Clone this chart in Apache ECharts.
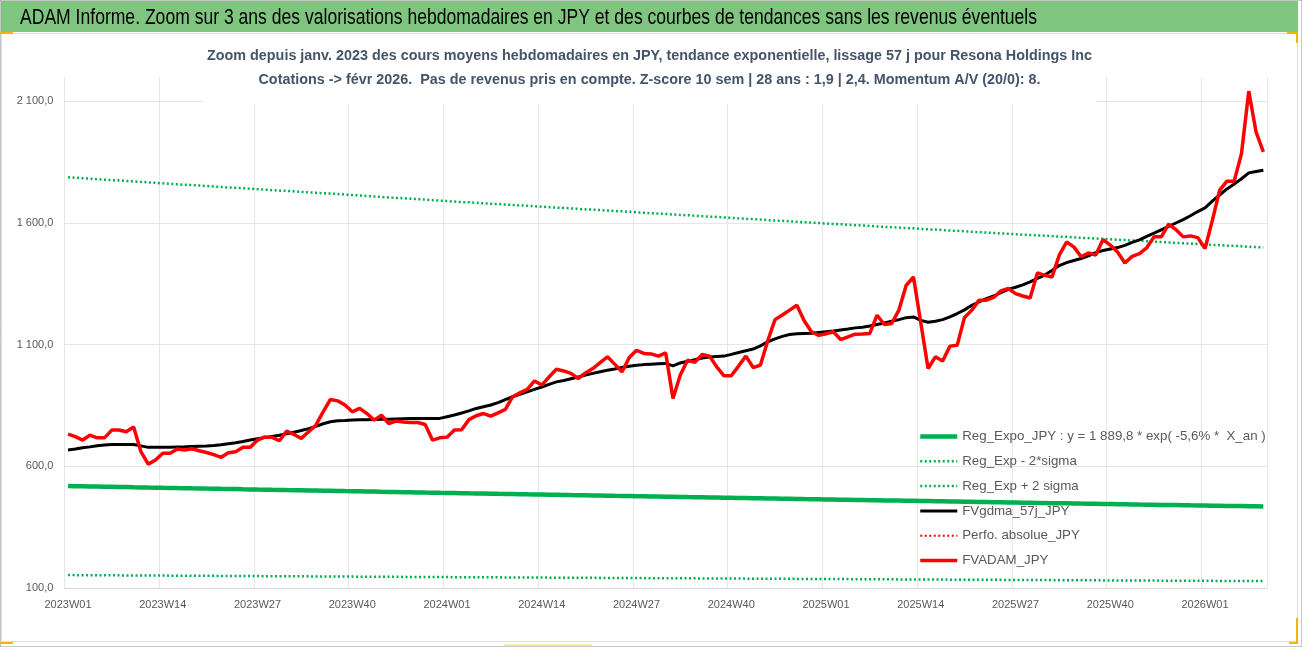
<!DOCTYPE html>
<html>
<head>
<meta charset="utf-8">
<script src="https://cdn.jsdelivr.net/npm/echarts@6/dist/echarts.min.js"></script>
<style>
html,body{margin:0;padding:0;background:#fff;}
#chart{width:1302px;height:647px;}
</style>
</head>
<body>
<div id="chart"></div>
<script>
// ---- Data (weekly, 2023W01 .. 2026W09) ----
const fvAdam = [
 732,722,708,728,717,717,749,749,742,762,660,609,626,
 654,654,671,667,672,664,657,648,637,656,660,678,678,
 708,721,719,705,745,731,715,742,769,824,875,869,852,
 824,838,817,790,810,776,786,782,780,780,772,708,717,
 720,749,750,792,808,817,806,820,834,886,902,916,951,
 934,967,999,992,982,961,984,1002,1026,1050,1020,988,1047,
 1077,1064,1062,1053,1066,879,975,1036,1027,1060,1053,1009,972,
 972,1012,1053,1006,1016,1116,1203,1222,1242,1262,1198,1153,1138,
 1145,1153,1121,1132,1143,1144,1146,1221,1183,1187,1242,1344,1378,
 1190,1002,1050,1033,1094,1098,1212,1242,1283,1283,1294,1321,1331,
 1310,1300,1292,1395,1385,1378,1468,1522,1502,1461,1477,1468,1532,
 1509,1481,1436,1463,1474,1498,1543,1543,1595,1573,1543,1547,1540,
 1495,1611,1734,1772,1772,1885,2142,1974,1892
];
const fvGdma = [
 667,671,676,680,685,688,690,690,690,690,684,678,678,
 678,678,679,680,682,683,684,686,689,693,697,702,708,
 713,718,723,728,734,740,747,755,764,775,783,787,788,
 790,791,791,792,793,794,795,796,797,797,797,797,797,
 804,811,819,828,838,845,852,862,874,886,896,906,916,
 926,937,947,953,960,967,975,982,989,995,1000,1006,1011,
 1015,1018,1020,1022,1023,1013,1025,1032,1038,1045,1049,1051,1053,
 1060,1068,1075,1082,1095,1112,1124,1134,1142,1145,1146,1147,1150,
 1153,1156,1160,1164,1169,1172,1177,1183,1189,1196,1203,1211,1214,
 1200,1192,1196,1203,1214,1228,1243,1262,1276,1289,1300,1314,1327,
 1336,1346,1358,1372,1386,1405,1425,1437,1446,1454,1465,1478,1487,
 1493,1499,1508,1520,1531,1545,1558,1572,1586,1600,1614,1630,1647,
 1662,1690,1715,1740,1760,1782,1806,1812,1817
];
const regExpo = [
 519,518.4,517.9,517.3,516.8,516.2,515.7,515.1,514.6,514,513.5,512.9,512.4,
 511.8,511.3,510.7,510.2,509.6,509.1,508.5,508,507.4,506.9,506.4,505.8,505.3,
 504.7,504.2,503.6,503.1,502.5,502,501.5,500.9,500.4,499.8,499.3,498.8,498.2,
 497.7,497.2,496.6,496.1,495.5,495,494.5,493.9,493.4,492.9,492.3,491.8,491.2,
 490.7,490.2,489.7,489.1,488.6,488.1,487.6,487,486.5,486,485.5,484.9,484.4,
 483.9,483.4,482.9,482.4,481.8,481.3,480.8,480.3,479.8,479.3,478.7,478.2,477.7,
 477.2,476.7,476.2,475.7,475.2,474.7,474.2,473.6,473.1,472.6,472.1,471.6,471.1,
 470.6,470.1,469.6,469.1,468.6,468.1,467.6,467.1,466.6,466.1,465.5,465,464.5,
 464,463.5,463,462.5,462,461.5,461,460.6,460.1,459.6,459.1,458.6,458.1,
 457.6,457.1,456.6,456.1,455.6,455.1,454.6,454.2,453.7,453.2,452.7,452.2,451.7,
 451.2,450.7,450.2,449.7,449.3,448.8,448.3,447.8,447.3,446.8,446.4,445.9,445.4,
 444.9,444.4,444,443.5,443,442.6,442.1,441.6,441.1,440.7,440.2,439.7,439.3,
 438.8,438.3,437.9,437.4,436.9,436.5,436,435.5,435
];
const regLow = [
 153.1,152.9,152.8,152.6,152.4,152.3,152.1,151.9,151.8,151.6,151.4,151.3,151.1,
 151,150.8,150.7,150.5,150.4,150.2,150,149.9,149.7,149.5,149.4,149.2,149.1,
 148.9,148.7,148.6,148.4,148.3,148.1,147.9,147.8,147.6,147.4,147.3,147.1,147,
 146.8,146.6,146.5,146.3,146.2,146,145.9,145.7,145.6,145.4,145.3,145.1,145,
 144.8,144.6,144.5,144.3,144.2,144,143.9,143.7,143.6,143.4,143.3,143.1,143,
 142.8,142.6,142.5,142.3,142.2,142,141.9,141.7,141.6,141.4,141.3,141.1,141,
 140.8,140.6,140.5,140.3,140.2,140,139.9,139.7,139.6,139.4,139.3,139.1,139,
 138.8,138.7,138.5,138.4,138.2,138.1,137.9,137.8,137.6,137.5,137.3,137.2,137,
 136.9,136.8,136.6,136.5,136.3,136.2,136,135.9,135.7,135.6,135.4,135.3,135.1,
 135,134.9,134.7,134.6,134.4,134.3,134.1,134,133.8,133.7,133.5,133.4,133.2,
 133.1,133,132.8,132.7,132.5,132.4,132.2,132.1,131.9,131.8,131.6,131.5,131.3,
 131.2,131.1,130.9,130.8,130.6,130.5,130.4,130.2,130.1,129.9,129.8,129.6,129.5,
 129.4,129.3,129.1,129,128.9,128.7,128.6,128.4,128.3
];
const regHigh = [
 1788,1786,1784,1782,1780,1778,1776,1775,1773,1771,1769,1767,1765,
 1763,1761,1759,1757,1756,1754,1752,1750,1748,1746,1745,1743,1741,
 1739,1737,1735,1733,1732,1730,1728,1726,1724,1722,1721,1719,1717,
 1715,1713,1711,1709,1707,1705,1703,1702,1700,1698,1696,1694,1692,
 1690,1688,1686,1685,1683,1681,1679,1678,1676,1674,1672,1671,1669,
 1667,1665,1663,1662,1660,1658,1656,1655,1653,1651,1649,1648,1646,
 1644,1642,1640,1639,1637,1635,1633,1632,1630,1628,1626,1625,1623,
 1621,1619,1617,1616,1614,1612,1610,1609,1607,1605,1603,1602,1600,
 1598,1596,1595,1593,1591,1590,1588,1586,1584,1583,1581,1579,1578,
 1576,1574,1573,1571,1569,1568,1566,1564,1562,1561,1559,1557,1556,
 1554,1552,1551,1549,1548,1546,1544,1543,1541,1539,1538,1536,1535,
 1533,1531,1530,1528,1527,1525,1523,1522,1520,1518,1517,1515,1514,
 1512,1510,1509,1507,1506,1504,1502,1501,1499
];
const perfoAbs = [];
const yTicks = [100, 600, 1100, 1600, 2100];
const seriesNames = [
 'Reg_Expo_JPY : y = 1 889,8 * exp( -5,6% *  X_an )',
 'Reg_Exp - 2*sigma',
 'Reg_Exp + 2 sigma',
 'FVgdma_57j_JPY',
 'Perfo. absolue_JPY',
 'FVADAM_JPY'
];
const mainTitle = 'ADAM Informe. Zoom sur 3 ans des valorisations hebdomadaires en JPY et des courbes de tendances sans les revenus éventuels';
const subLine1 = 'Zoom depuis janv. 2023 des cours moyens hebdomadaires en JPY, tendance exponentielle, lissage 57 j pour Resona Holdings Inc';
const subLine2 = 'Cotations -> févr 2026.  Pas de revenus pris en compte. Z-score 10 sem | 28 ans : 1,9 | 2,4. Momentum A/V (20/0): 8.';
// weekly category labels
const categories = [];
for (let y = 2023; categories.length < fvAdam.length; y++) {
  for (let w = 1; w <= 52 && categories.length < fvAdam.length; w++) {
    categories.push(y + 'W' + String(w).padStart(2, '0'));
  }
}

const FAM = "'Liberation Sans', Arial, sans-serif";
const mctx = document.createElement('canvas').getContext('2d');
function textW(font, t) { mctx.font = font; return mctx.measureText(t).width; }
const titleFont = '22px ' + FAM;
const titleScale = 1017 / textW(titleFont, mainTitle);
const subFont = 'bold 14.5px ' + FAM;
const subScale = 885 / textW(subFont, subLine1);

function fmtY(v) {
  if (v > yTicks[yTicks.length - 1]) return '';
  const s = Number(v).toFixed(1).split('.');
  return s[0].replace(/\B(?=(\d{3})+(?!\d))/g, ' ') + ',' + s[1];
}
const GRID = '#E3E6EB';
const GREEN = '#00B050', RED = '#FF0000', BLACK = '#000000';
const dot = [2, 2.5];
const styles = [
  { color: GREEN, width: 4.5, type: 'solid' },
  { color: GREEN, width: 2.5, type: dot },
  { color: GREEN, width: 2.5, type: dot },
  { color: BLACK, width: 3, type: 'solid' },
  { color: RED, width: 2, type: dot },
  { color: RED, width: 3.5, type: 'solid' }
];
const seriesData = [regExpo, regLow, regHigh, fvGdma, perfoAbs, fvAdam];
const chart = echarts.init(document.getElementById('chart'));
chart.setOption({
  animation: false,
  backgroundColor: '#fff',
  textStyle: { fontFamily: FAM },
  graphic: [
    { type: 'rect', z: -10, silent: true, shape: { x: 0, y: 0, width: 1302, height: 647 }, style: { fill: '#fff', stroke: '#8E8E8E', lineWidth: 1 } },
    { type: 'rect', z: -9, silent: true, shape: { x: 1, y: 1, width: 1297, height: 31 }, style: { fill: '#80C57F' } },
    { type: 'rect', z: -9, silent: true, shape: { x: 1.5, y: 33.5, width: 1296, height: 608 }, style: { fill: 'none', stroke: '#DADDE2', lineWidth: 1 } },
    { type: 'text', z: 20, silent: true, x: 20, y: 18, scaleX: titleScale,
      style: { text: mainTitle, font: titleFont, fill: '#000', align: 'left', verticalAlign: 'middle' } },
    { type: 'rect', z: 19, silent: true, shape: { x: 203, y: 45, width: 893, height: 59 }, style: { fill: '#fff' } },
    { type: 'text', z: 20, silent: true, x: 649.5, y: 55.5, scaleX: subScale,
      style: { text: subLine1, font: subFont, fill: '#44546A', align: 'center', verticalAlign: 'middle' } },
    { type: 'text', z: 20, silent: true, x: 649.5, y: 79.5, scaleX: subScale,
      style: { text: subLine2, font: subFont, fill: '#44546A', align: 'center', verticalAlign: 'middle' } },
    { type: 'rect', z: 50, silent: true, shape: { x: 0, y: 32, width: 13, height: 2 }, style: { fill: '#F4B400' } },
    { type: 'rect', z: 50, silent: true, shape: { x: 1287, y: 32, width: 11, height: 2 }, style: { fill: '#F4B400' } },
    { type: 'rect', z: 50, silent: true, shape: { x: 1296, y: 32, width: 2, height: 11 }, style: { fill: '#F4B400' } },
    { type: 'rect', z: 50, silent: true, shape: { x: 1296, y: 618, width: 2, height: 26 }, style: { fill: '#F4B400' } },
    { type: 'rect', z: 50, silent: true, shape: { x: 1289, y: 642, width: 9, height: 2 }, style: { fill: '#F4B400' } },
    { type: 'rect', z: 50, silent: true, shape: { x: 0, y: 642, width: 13, height: 2 }, style: { fill: '#F4B400' } },
    { type: 'rect', z: 50, silent: true, shape: { x: 504, y: 644, width: 88, height: 2 }, style: { fill: '#F5EE9A' } }
  ],
  legend: {
    orient: 'vertical', left: 913, top: 425,
    itemWidth: 37, itemHeight: 14, itemGap: 11.8,
    data: seriesNames.map((n, i) => ({ name: n, lineStyle: { width: styles[i].width, type: styles[i].type, color: styles[i].color } })),
    itemStyle: { opacity: 0 },
    textStyle: { fontFamily: FAM, fontSize: 13.3, color: '#595959' }
  },
  grid: { left: 64.4, right: 35, top: 77, bottom: 59, containLabel: false },
  xAxis: {
    type: 'category', data: categories, boundaryGap: true,
    axisLine: { lineStyle: { color: '#D9D9D9' } },
    axisTick: { show: false, interval: 12 },
    axisLabel: { interval: 12, fontSize: 11, color: '#595959', margin: 11, fontFamily: FAM },
    splitLine: { show: true, interval: 12, lineStyle: { color: GRID } }
  },
  yAxis: {
    type: 'value', min: yTicks[0], max: 2200, interval: yTicks[1] - yTicks[0],
    axisLine: { show: false }, axisTick: { show: false },
    axisLabel: { formatter: fmtY, fontSize: 11, color: '#595959', margin: 11, fontFamily: FAM },
    splitLine: { show: true, showMaxLine: false, lineStyle: { color: GRID } }
  },
  series: seriesNames.map((n, i) => ({
    name: n, type: 'line', data: seriesData[i], symbol: 'none',
    lineStyle: { color: styles[i].color, width: styles[i].width, type: styles[i].type },
    itemStyle: { color: styles[i].color },
    z: i === 5 ? 4 : (i === 3 || i === 4 ? 3 : 2)
  }))
});
</script>
</body>
</html>
